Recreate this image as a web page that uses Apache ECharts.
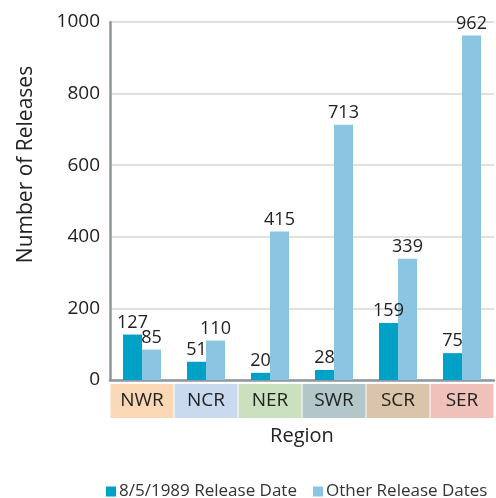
<!DOCTYPE html>
<html>
<head>
<meta charset="utf-8">
<script src="https://cdn.jsdelivr.net/npm/echarts@6/dist/echarts.min.js"></script>
<style>
  html, body { margin: 0; padding: 0; background: #fff; }
  #main { width: 496px; height: 498px; }
</style>
</head>
<body>
<div id="main"></div>
<script>
// regions and release counts
var regions = ['NWR', 'NCR', 'NER', 'SWR', 'SCR', 'SER'];
var release1989 = [127, 51, 20, 28, 159, 75];
var otherReleases = [85, 110, 415, 713, 339, 962];
var seriesNames = ['8/5/1989 Release Date', 'Other Release Dates'];

var boxColors = ['#fad7b5', '#c9d9ee', '#cbe0bf', '#b3c6ca', '#dac4ab', '#efc1ba'];
var font = 'Open Sans';

// one rich style per region box
var rich = {};
regions.forEach(function (r, i) {
  rich['c' + i] = {
    backgroundColor: boxColors[i],
    width: 63,
    height: 34,
    lineHeight: 34,
    align: 'center',
    fontSize: 19,
    fontFamily: font,
    color: '#222'
  };
});

var chart = echarts.init(document.getElementById('main'));

var labelStyle = {
  show: true,
  position: 'top',
  distance: 3,
  fontSize: 18,
  fontFamily: font,
  color: '#222'
};

chart.setOption({
  animation: false,
  textStyle: { fontFamily: font },
  grid: { left: 110, top: 22, width: 390, height: 358 },
  legend: {
    data: seriesNames,
    left: 106,
    bottom: -2,
    padding: 0,
    itemWidth: 10,
    itemHeight: 10,
    itemGap: 16,
    icon: 'rect',
    textStyle: { fontSize: 17, color: '#333', fontFamily: font, padding: [0, 0, 0, -2] }
  },
  xAxis: {
    type: 'category',
    data: regions,
    name: 'Region',
    nameLocation: 'middle',
    nameGap: 46,
    nameTextStyle: { fontSize: 20, color: '#222' },
    axisLine: { lineStyle: { color: '#8e979c', width: 2.5 } },
    axisTick: { show: false },
    axisLabel: {
      margin: 4,
      interval: 0,
      formatter: function (v) {
        var i = regions.indexOf(v);
        return '{c' + i + '|' + v + '}';
      },
      rich: rich
    }
  },
  yAxis: {
    type: 'value',
    min: 0,
    max: 1000,
    interval: 200,
    name: 'Number of Releases',
    nameLocation: 'middle',
    nameRotate: 90,
    nameGap: 73,
    nameTextStyle: { fontSize: 21, color: '#222', padding: [0, 0, 0, 73] },
    axisLine: { show: true, lineStyle: { color: '#8e979c', width: 2.5 } },
    axisTick: { show: false },
    axisLabel: {
      fontSize: 19,
      color: '#222',
      margin: 10,
      formatter: function (v) { return String(v); }
    },
    splitLine: { lineStyle: { color: '#d6d6d6', width: 1.5 } }
  },
  series: [
    {
      name: seriesNames[0],
      type: 'bar',
      data: release1989,
      barWidth: 19,
      barGap: '0%',
      itemStyle: { color: '#00a1c6' },
      label: labelStyle
    },
    {
      name: seriesNames[1],
      type: 'bar',
      data: otherReleases,
      barWidth: 19,
      itemStyle: { color: '#8cc5e2' },
      label: labelStyle
    }
  ]
});
</script>
</body>
</html>
